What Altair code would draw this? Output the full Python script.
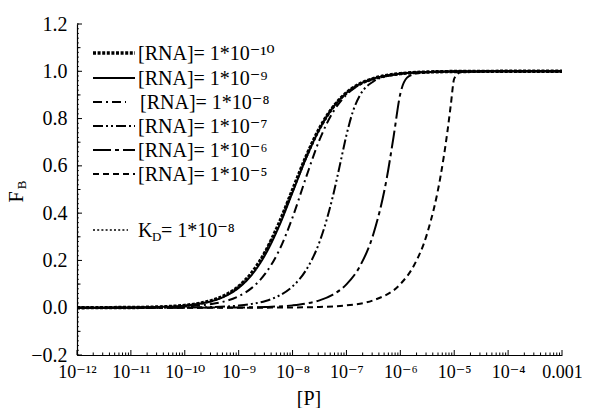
import json
import altair as alt
import pandas as pd

FONT = "Liberation Serif, DejaVu Serif, serif"

# ---- data (exponent of [P], fraction bound F_B) ----
exp_a = [-12, -11, -10.5, -10, -9.75, -9.5, -9.25, -9, -8.75, -8.5, -8.25, -8,
         -7.75, -7.5, -7.25, -7, -6.75, -6.5, -6.25, -6, -5.5, -5, -4, -3]
fb_kd = [0.0001, 0.001, 0.0032, 0.0099, 0.0175, 0.0307, 0.0532, 0.0909, 0.151, 0.240, 0.360, 0.500,
         0.640, 0.760, 0.849, 0.909, 0.947, 0.969, 0.9825, 0.990, 0.9968, 0.999, 0.9999, 1.0]
fb_rna_e10 = [0.0001, 0.001, 0.0031, 0.0098, 0.0174, 0.0305, 0.0530, 0.0902, 0.150, 0.239, 0.358, 0.4987,
              0.639, 0.759, 0.848, 0.909, 0.947, 0.969, 0.9825, 0.990, 0.9968, 0.999, 0.9999, 1.0]
fb_rna_e9 = [0.0001, 0.0009, 0.0029, 0.009, 0.0159, 0.028, 0.049, 0.084, 0.141, 0.227, 0.345, 0.488,
             0.632, 0.755, 0.847, 0.9085, 0.9465, 0.969, 0.982, 0.990, 0.9968, 0.999, 0.9999, 1.0]
fb_rna_e8 = [0.00005, 0.0005, 0.0016, 0.005, 0.0089, 0.0157, 0.0277, 0.0488, 0.085, 0.146, 0.242, 0.382,
             0.551, 0.710, 0.827, 0.901, 0.944, 0.968, 0.982, 0.990, 0.9968, 0.999, 0.9999, 1.0]

exp_e7 = [-12, -11, -10, -9.5, -9, -8.75, -8.5, -8.25, -8, -7.75, -7.5, -7.25, -7.125, -7,
          -6.875, -6.75, -6.5, -6.25, -6, -5.75, -5.5, -5, -4, -3]
fb_rna_e7 = [0.00001, 0.0001, 0.0009, 0.0029, 0.0091, 0.0162, 0.0287, 0.0509, 0.0901, 0.159, 0.278, 0.473,
             0.600, 0.730, 0.8335, 0.898, 0.957, 0.979, 0.989, 0.9944, 0.9969, 0.999, 0.9999, 1.0]

exp_e6 = [-12, -10, -9, -8.5, -8, -7.75, -7.5, -7.25, -7, -6.75, -6.5, -6.25, -6.125, -6,
          -5.875, -5.75, -5.5, -5, -4, -3]
fb_rna_e6 = [0.0, 0.0001, 0.001, 0.0031, 0.0099, 0.0176, 0.0312, 0.0556, 0.0989, 0.1757, 0.3117, 0.550,
             0.724, 0.905, 0.973, 0.9875, 0.9954, 0.9989, 0.9999, 1.0]

exp_e5 = [-12, -9, -8, -7.5, -7, -6.5, -6, -5.75, -5.5, -5.25, -5.125, -5.0625, -5,
          -4.875, -4.75, -4.5, -4, -3]
fb_rna_e5 = [0.0, 0.0001, 0.001, 0.0032, 0.0099, 0.0316, 0.0999, 0.1776, 0.3157, 0.561, 0.747, 0.860, 0.969,
             0.997, 0.9987, 0.9996, 0.9999, 1.0]

series_labels = ["[RNA]= 1*10⁻¹⁰", "[RNA]= 1*10⁻⁹", "[RNA]= 1*10⁻⁸",
                 "[RNA]= 1*10⁻⁷", "[RNA]= 1*10⁻⁶", "[RNA]= 1*10⁻⁵"]
kd_text = ["K", "D", "= 1*10⁻⁸"]

x_tick_exps = list(range(-12, -2))
x_tick_labels = ["10⁻¹²", "10⁻¹¹", "10⁻¹⁰", "10⁻⁹", "10⁻⁸", "10⁻⁷", "10⁻⁶", "10⁻⁵", "10⁻⁴", "0.001"]
y_tick_values = [-0.2, 0.0, 0.2, 0.4, 0.6, 0.8, 1.0, 1.2]

# ---- styles ----
styles = {
    series_labels[0]: dict(strokeDash=[3, 1.6], strokeWidth=3.4),
    series_labels[1]: dict(strokeDash=[1, 0], strokeWidth=2.0),
    series_labels[2]: dict(strokeDash=[9, 4, 2, 4], strokeWidth=2.0),
    series_labels[3]: dict(strokeDash=[10, 3, 2, 3, 2, 3], strokeWidth=2.0),
    series_labels[4]: dict(strokeDash=[18, 4, 4, 4], strokeWidth=2.0),
    series_labels[5]: dict(strokeDash=[6, 4], strokeWidth=2.0),
    "KD": dict(strokeDash=[2, 2.2], strokeWidth=1.4),
}

W, H = 485, 331
xscale = alt.Scale(type="log", domain=[1e-12, 1e-3], nice=False)
yscale = alt.Scale(domain=[-0.2, 1.2], nice=False, zero=False)

label_expr = "%s[round(log(datum.value)/LN10)+12]" % json.dumps(x_tick_labels, ensure_ascii=False)

x_axis = alt.Axis(values=[10.0 ** e for e in x_tick_exps], labelExpr=label_expr, title=None,
                  ticks=False, tickSize=0, labelPadding=8, labelFont=FONT, labelFontSize=18,
                  labelColor="black", domainColor="black", domainWidth=1.2, grid=False,
                  labelOverlap=False, labelFlush=False)
y_axis = alt.Axis(values=y_tick_values, format=".1f", title=None, ticks=False, tickSize=0,
                  labelPadding=10, labelFont=FONT, labelFontSize=20, labelColor="black",
                  domainColor="black", domainWidth=1.2, grid=False)


def frame(exps, vals, name):
    return pd.DataFrame({"P": [10.0 ** e for e in exps], "F": vals, "series": name})


curve_data = [
    ("KD", frame(exp_a, fb_kd, "KD")),
    (series_labels[5], frame(exp_e5, fb_rna_e5, series_labels[5])),
    (series_labels[4], frame(exp_e6, fb_rna_e6, series_labels[4])),
    (series_labels[3], frame(exp_e7, fb_rna_e7, series_labels[3])),
    (series_labels[2], frame(exp_a, fb_rna_e8, series_labels[2])),
    (series_labels[1], frame(exp_a, fb_rna_e9, series_labels[1])),
    (series_labels[0], frame(exp_a, fb_rna_e10, series_labels[0])),
]

layers = []
for name, df in curve_data:
    st = styles[name]
    layers.append(
        alt.Chart(df).mark_line(color="black", interpolate="monotone", clip=True, **st).encode(
            x=alt.X("P:Q", scale=xscale, axis=x_axis),
            y=alt.Y("F:Q", scale=yscale, axis=y_axis),
        )
    )

# inward tick marks
x_major = pd.DataFrame({"P": [10.0 ** e for e in x_tick_exps]})
x_minor = pd.DataFrame({"P": [m * 10.0 ** e for e in range(-12, -3) for m in range(2, 10)]})
y_major = pd.DataFrame({"F": y_tick_values})
y_mid = pd.DataFrame({"F": [-0.1, 0.1, 0.3, 0.5, 0.7, 0.9, 1.1]})
y_minor = pd.DataFrame({"F": [round(-0.2 + 0.02 * i, 2) for i in range(71)]})

for df, ln in [(x_major, 5), (x_minor, 2.5)]:
    layers.append(alt.Chart(df).mark_rule(color="black", strokeWidth=1).encode(
        x=alt.X("P:Q", scale=xscale, axis=x_axis), y=alt.value(H), y2=alt.value(H - ln)))
for df, ln in [(y_major, 5), (y_mid, 3.5), (y_minor, 1.8)]:
    layers.append(alt.Chart(df).mark_rule(color="black", strokeWidth=1).encode(
        y=alt.Y("F:Q", scale=yscale, axis=y_axis), x=alt.value(0), x2=alt.value(ln)))

# manual legend
row_y = [29, 54, 78, 102, 126, 150]
sample_x0 = 16
sample_x1 = [58, 58, 49, 58, 58, 58]
text_x = [61, 61, 63, 61, 61, 61]
for i, name in enumerate(series_labels):
    st = styles[name]
    layers.append(alt.Chart().mark_rule(color="black", **st).encode(
        x=alt.value(sample_x0), x2=alt.value(sample_x1[i]), y=alt.value(row_y[i])))
    layers.append(alt.Chart().mark_text(align="left", baseline="middle", font=FONT, fontSize=20,
                                        color="black").encode(
        x=alt.value(text_x[i]), y=alt.value(row_y[i] + 1), text=alt.value(name)))

kd_y = 206
layers.append(alt.Chart().mark_rule(color="black", **styles["KD"]).encode(
    x=alt.value(sample_x0), x2=alt.value(51), y=alt.value(kd_y)))
layers.append(alt.Chart().mark_text(align="left", baseline="middle", font=FONT, fontSize=20,
                                    color="black").encode(
    x=alt.value(61), y=alt.value(kd_y + 1), text=alt.value(kd_text[0])))
layers.append(alt.Chart().mark_text(align="left", baseline="middle", font=FONT, fontSize=13,
                                    color="black").encode(
    x=alt.value(75), y=alt.value(kd_y + 7), text=alt.value(kd_text[1])))
layers.append(alt.Chart().mark_text(align="left", baseline="middle", font=FONT, fontSize=20,
                                    color="black").encode(
    x=alt.value(84), y=alt.value(kd_y + 1), text=alt.value(kd_text[2])))

# axis titles
layers.append(alt.Chart().mark_text(align="center", baseline="middle", font=FONT, fontSize=20,
                                    color="black").encode(
    x=alt.value(232), y=alt.value(375), text=alt.value("[P]")))
layers.append(alt.Chart().mark_text(align="center", baseline="middle", font=FONT, fontSize=20,
                                    color="black", angle=270).encode(
    x=alt.value(-60), y=alt.value(173), text=alt.value("F")))
layers.append(alt.Chart().mark_text(align="center", baseline="middle", font=FONT, fontSize=13,
                                    color="black", angle=270).encode(
    x=alt.value(-55), y=alt.value(161), text=alt.value("B")))

chart = alt.layer(*layers).properties(
    width=W, height=H,
    autosize=alt.AutoSizeParams(type="none"),
    padding={"left": 69, "top": 16, "right": 20, "bottom": 53},
    background="white",
).configure_view(stroke=None)

chart.save("out.html", embed_options={"renderer": "svg", "actions": False})
